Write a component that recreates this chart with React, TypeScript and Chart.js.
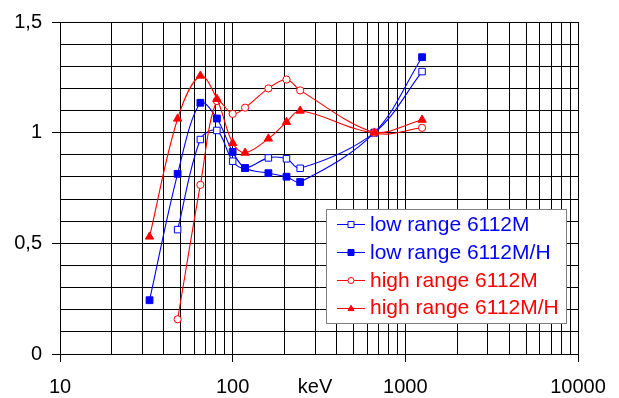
import React, { useEffect, useRef } from 'react';
import { Chart, registerables } from 'chart.js';

Chart.register(...registerables);

// Energies (keV)
const energies = [33, 48, 65, 81, 100, 118, 161, 205, 246, 662, 1250];
// Relative response per series (null = no measurement)
const lowRange6112M = [null, 0.562, 0.969, 1.01, 0.871, 0.84, 0.886, 0.882, 0.839, 1.0, 1.276];
const lowRange6112MH = [0.243, 0.814, 1.135, 1.064, 0.913, 0.84, 0.817, 0.801, 0.777, 1.0, 1.341];
const highRange6112M = [null, 0.157, 0.764, 1.143, 1.085, 1.113, 1.2, 1.24, 1.191, 1.0, 1.022];
const highRange6112MH = [0.53, 1.063, 1.257, 1.152, 0.953, 0.909, 0.973, 1.048, 1.099, 1.0, 1.058];

const seriesNames = ['low range 6112M', 'low range 6112M/H', 'high range 6112M', 'high range 6112M/H'];

// Axis ticks
const xGridValues = [
  10, 20, 30, 40, 50, 60, 70, 80, 90,
  100, 200, 300, 400, 500, 600, 700, 800, 900,
  1000, 2000, 3000, 4000, 5000, 6000, 7000, 8000, 9000, 10000,
];
const xTickLabels: Record<number, string> = { 10: '10', 100: '100', 300: 'keV', 1000: '1000', 10000: '10000' };
const xMajorTicks = [10, 100, 1000, 10000];
const yLabelValues = [0, 0.5, 1, 1.5];

const FONT = '"Liberation Sans", Arial, sans-serif';
const BLUE = '#0000ff';
const RED = '#ff0000';

function toPoints(vals: (number | null)[]) {
  const pts: { x: number; y: number }[] = [];
  vals.forEach((v, i) => {
    if (v !== null) pts.push({ x: energies[i], y: v });
  });
  return pts;
}

const styles = [
  { color: BLUE, shape: 'rect', fill: false, radius: 4.6 },
  { color: BLUE, shape: 'rect', fill: true, radius: 4.8 },
  { color: RED, shape: 'circle', fill: false, radius: 3.6 },
  { color: RED, shape: 'triangle', fill: true, radius: 4.8 },
];

function drawMarker(ctx: CanvasRenderingContext2D, shape: string, x: number, y: number, r: number, color: string, fill: boolean) {
  ctx.save();
  ctx.beginPath();
  if (shape === 'rect') {
    ctx.rect(x - r, y - r, 2 * r, 2 * r);
  } else if (shape === 'circle') {
    ctx.arc(x, y, r, 0, Math.PI * 2);
  } else {
    ctx.moveTo(x, y - r * 1.1);
    ctx.lineTo(x + r, y + r * 0.7);
    ctx.lineTo(x - r, y + r * 0.7);
    ctx.closePath();
  }
  ctx.fillStyle = fill ? color : '#ffffff';
  ctx.fill();
  ctx.strokeStyle = color;
  ctx.lineWidth = 1;
  ctx.stroke();
  ctx.restore();
}

const legendPlugin = {
  id: 'boxLegend',
  afterDraw(chart: any) {
    const ctx: CanvasRenderingContext2D = chart.ctx;
    ctx.save();
    const bx = 326.5, by = 209.5, bw = 240, bh = 114;
    ctx.fillStyle = '#ffffff';
    ctx.fillRect(bx, by, bw, bh);
    ctx.strokeStyle = '#808080';
    ctx.lineWidth = 1;
    ctx.strokeRect(bx, by, bw, bh);
    const rows = [224, 252, 280, 307.5];
    ctx.font = `21px ${FONT}`;
    ctx.textBaseline = 'middle';
    ctx.textAlign = 'left';
    seriesNames.forEach((name, i) => {
      const s = styles[i];
      const y = rows[i];
      ctx.beginPath();
      ctx.strokeStyle = s.color;
      ctx.lineWidth = 1;
      ctx.moveTo(337, Math.round(y) + 0.5);
      ctx.lineTo(365, Math.round(y) + 0.5);
      ctx.stroke();
      drawMarker(ctx, s.shape, 351, Math.round(y) + 0.5, 3, s.color, s.fill);
      ctx.fillStyle = s.color;
      ctx.fillText(name, 370, y + 1);
    });
    ctx.restore();
  },
};

export default function App() {
  const ref = useRef<HTMLCanvasElement | null>(null);

  useEffect(() => {
    document.body.style.margin = '0';
    const canvas = ref.current;
    if (!canvas) return;
    const seriesData = [lowRange6112M, lowRange6112MH, highRange6112M, highRange6112MH];
    const orders = [3, 2, 1, 0];
    const chart = new Chart(canvas, {
      type: 'line',
      data: {
        datasets: seriesData.map((vals, i) => ({
          label: seriesNames[i],
          data: toPoints(vals),
          borderColor: styles[i].color,
          backgroundColor: styles[i].fill ? styles[i].color : '#ffffff',
          pointBorderColor: styles[i].color,
          pointBackgroundColor: styles[i].fill ? styles[i].color : '#ffffff',
          pointStyle: styles[i].shape as any,
          pointRadius: styles[i].radius,
          pointBorderWidth: 1,
          borderWidth: 1.1,
          tension: 0.35,
          fill: false,
          order: orders[i],
        })),
      },
      options: {
        responsive: false,
        animation: false,
        events: [],
        layout: { padding: { top: 20, right: 41, left: 0, bottom: 0 } },
        plugins: {
          legend: { display: false },
          tooltip: { enabled: false },
          title: { display: false },
        },
        scales: {
          x: {
            type: 'logarithmic',
            min: 10,
            max: 10000,
            afterBuildTicks: (axis: any) => {
              axis.ticks = xGridValues.map((v) => ({ value: v }));
            },
            afterFit: (s: any) => {
              s.height = 44;
            },
            ticks: {
              autoSkip: false,
              maxRotation: 0,
              minRotation: 0,
              padding: 13,
              color: '#000000',
              font: { family: FONT, size: 20 },
              callback: (v: any) => xTickLabels[Number(v)] ?? '',
            },
            grid: {
              color: '#000000',
              lineWidth: 1,
              tickLength: 8,
              tickColor: (c: any) =>
                c.tick && xMajorTicks.includes(Number(c.tick.value)) ? '#000000' : 'rgba(0,0,0,0)',
            },
            border: { display: true, color: '#000000', width: 1 },
          },
          y: {
            type: 'linear',
            min: 0,
            max: 1.5,
            afterFit: (s: any) => {
              s.width = 60;
            },
            ticks: {
              stepSize: 0.1,
              autoSkip: false,
              padding: 10,
              color: '#000000',
              font: { family: FONT, size: 20 },
              callback: (v: any) => {
                const n = Number(v);
                const hit = yLabelValues.find((l) => Math.abs(l - n) < 1e-6);
                return hit === undefined ? '' : String(hit).replace('.', ',');
              },
            },
            grid: {
              color: '#000000',
              lineWidth: 1,
              tickLength: 8,
              tickColor: (c: any) =>
                c.tick && yLabelValues.some((l) => Math.abs(l - Number(c.tick.value)) < 1e-6)
                  ? '#000000'
                  : 'rgba(0,0,0,0)',
            },
            border: { display: true, color: '#000000', width: 1 },
          },
        },
      },
      plugins: [legendPlugin],
    } as any);
    return () => chart.destroy();
  }, []);

  return <canvas ref={ref} width={619} height={398} style={{ display: 'block' }} />;
}
